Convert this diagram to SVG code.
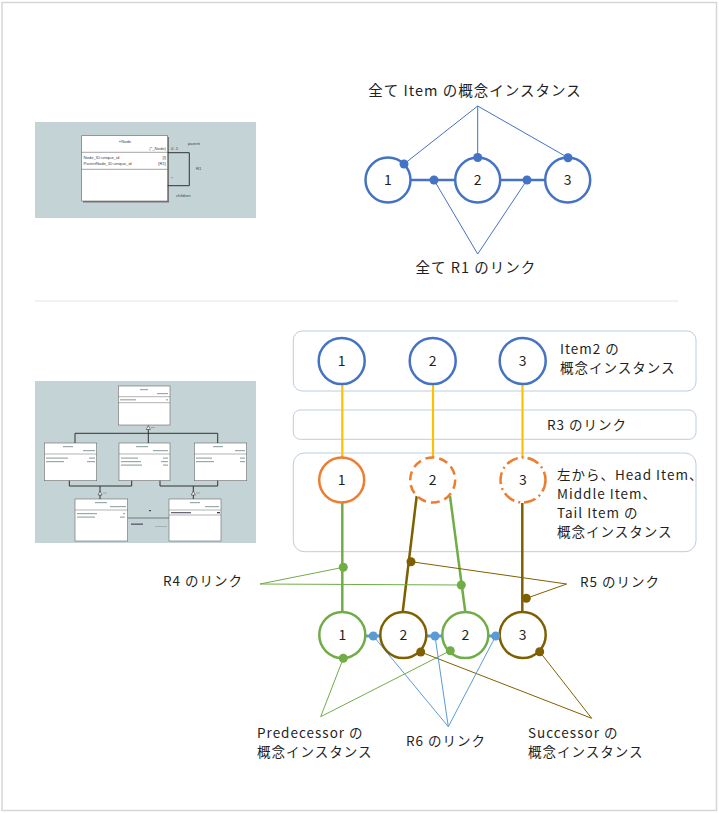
<svg xmlns="http://www.w3.org/2000/svg" width="719" height="813" viewBox="0 0 719 813">
<style>
.t{font-family:"Noto Sans CJK JP","Noto Sans",sans-serif;font-size:13.5px;letter-spacing:1px;fill:#1f1f1f}
.n{font-family:"Noto Sans CJK JP","Noto Sans",sans-serif;font-size:14px;fill:#1f1f1f;text-anchor:middle}
.tiny{font-family:"Liberation Sans",Arial,sans-serif;font-size:4.2px;fill:#444}
.blue{fill:#fff;stroke:#4472c4;stroke-width:2.5}
.orange{fill:#fff;stroke:#ed7d31;stroke-width:2.5}
.green{fill:#fff;stroke:#70ad47;stroke-width:2.5}
.brown{fill:#fff;stroke:#7f6000;stroke-width:2.5}
.box{fill:#fff;stroke:#bccddd;stroke-width:1}
.uml{fill:#fff;stroke:#666;stroke-width:0.6}
.bar{fill:#9aa}
.ul{fill:none;stroke:#333;stroke-width:1}
</style>
<rect x="2" y="2.5" width="714.5" height="808" fill="#fff" stroke="#d6d6d6" stroke-width="1.5"/>
<line x1="35" y1="301" x2="678" y2="301" stroke="#e4e4e4" stroke-width="1"/>

<!-- top thumbnail -->
<g id="thumb-node">
<rect x="35" y="122" width="221" height="96" fill="#c4d3d5"/>
<rect x="83" y="137" width="86" height="65.5" fill="#777"/>
<rect x="81.7" y="135.7" width="86" height="65.3" class="uml"/>
<line x1="81.7" y1="152.3" x2="167.7" y2="152.3" stroke="#666" stroke-width="0.6"/>
<line x1="81.7" y1="169.3" x2="167.7" y2="169.3" stroke="#666" stroke-width="0.6"/>
<text x="125" y="143" class="tiny" text-anchor="middle">«Node</text>
<text x="166" y="149.5" class="tiny" text-anchor="end">(*_Node)</text>
<text x="83.5" y="158.5" class="tiny">Node_ID:unique_id</text>
<text x="83.5" y="164.5" class="tiny">ParentNode_ID:unique_id</text>
<text x="166" y="158.5" class="tiny" text-anchor="end">[I]</text>
<text x="166" y="164.5" class="tiny" text-anchor="end">[R1]</text>
<polyline points="167.7,152.7 189.3,152.7 189.3,185.7 167.7,185.7" class="ul" stroke-width="1.3"/>
<text x="171" y="150" class="tiny">0..1</text>
<text x="188" y="145" class="tiny">parent</text>
<text x="196" y="170" class="tiny">R1</text>
<text x="171" y="180" class="tiny">*</text>
<text x="176" y="197" class="tiny">children</text>
</g>

<!-- bottom thumbnail -->
<g id="thumb-item">
<rect x="35" y="381" width="221" height="162" fill="#c4d3d5"/>
<g>
<rect x="118.3" y="386" width="51.7" height="39" class="uml"/>
<line x1="118.3" y1="396.7" x2="170" y2="396.7" stroke="#666" stroke-width="0.5"/>
<line x1="118.3" y1="402.7" x2="170" y2="402.7" stroke="#666" stroke-width="0.5"/>
<rect x="140" y="389" width="8" height="1.2" class="bar"/>
<rect x="157" y="393" width="11" height="1.2" class="bar"/>
<rect x="120" y="399.2" width="16" height="1.2" class="bar"/>
<rect x="166" y="399.2" width="2" height="1.2" class="bar"/>
</g>
<g>
<rect x="44.3" y="443" width="52.4" height="37.7" class="uml"/>
<line x1="44.3" y1="454" x2="96.7" y2="454" stroke="#666" stroke-width="0.5"/>
<rect x="63" y="446" width="10" height="1.2" class="bar"/>
<rect x="83" y="450" width="12" height="1.2" class="bar"/>
<rect x="46" y="457.5" width="22" height="1.2" class="bar"/>
<rect x="46" y="461" width="18" height="1.2" class="bar"/>
<rect x="89" y="457.5" width="6" height="1.2" class="bar"/>
<rect x="87" y="461" width="8" height="1.2" class="bar"/>
</g>
<g>
<rect x="119" y="443" width="51" height="37.7" class="uml"/>
<line x1="119" y1="454" x2="170" y2="454" stroke="#666" stroke-width="0.5"/>
<rect x="136" y="446" width="12" height="1.2" class="bar"/>
<rect x="153" y="450" width="15" height="1.2" class="bar"/>
<rect x="121" y="457.5" width="17" height="1.2" class="bar"/>
<rect x="121" y="461" width="20" height="1.2" class="bar"/>
<rect x="121" y="464.5" width="21" height="1.2" class="bar"/>
<rect x="163" y="457.5" width="5" height="1.2" class="bar"/>
<rect x="161" y="461" width="7" height="1.2" class="bar"/>
<rect x="163" y="464.5" width="5" height="1.2" class="bar"/>
</g>
<g>
<rect x="194.3" y="443" width="52.4" height="37.7" class="uml"/>
<line x1="194.3" y1="454" x2="246.7" y2="454" stroke="#666" stroke-width="0.5"/>
<rect x="213" y="446" width="10" height="1.2" class="bar"/>
<rect x="235" y="450" width="10" height="1.2" class="bar"/>
<rect x="196" y="457.5" width="16" height="1.2" class="bar"/>
<rect x="196" y="461" width="18" height="1.2" class="bar"/>
<rect x="240" y="457.5" width="5" height="1.2" class="bar"/>
<rect x="240" y="461" width="5" height="1.2" class="bar"/>
</g>
<g>
<rect x="75" y="499" width="52.7" height="42" class="uml"/>
<line x1="75" y1="510" x2="127.7" y2="510" stroke="#666" stroke-width="0.5"/>
<rect x="95" y="502" width="12" height="1.2" class="bar"/>
<rect x="110" y="506" width="16" height="1.2" class="bar"/>
<rect x="77" y="513" width="20" height="1.2" class="bar"/>
<rect x="77" y="516.5" width="18" height="1.2" class="bar"/>
<rect x="123" y="513" width="2" height="1.2" class="bar"/>
<rect x="120" y="516.5" width="5" height="1.2" class="bar"/>
</g>
<g>
<rect x="169" y="499" width="52" height="42" class="uml"/>
<line x1="169" y1="510" x2="221" y2="510" stroke="#666" stroke-width="0.5"/>
<line x1="169" y1="515" x2="221" y2="515" stroke="#666" stroke-width="0.5"/>
<rect x="190" y="502" width="10" height="1.2" class="bar"/>
<rect x="205" y="506" width="14" height="1.2" class="bar"/>
<rect x="171" y="512" width="20" height="1.3" fill="#667"/>
<rect x="217" y="512" width="3" height="1.3" fill="#444"/>
</g>
<g class="ul" stroke-width="1.2">
<polyline points="75,443 75,433.3 217.7,433.3 217.7,443"/>
<line x1="148.3" y1="433.3" x2="148.3" y2="443"/>
<line x1="148.3" y1="429" x2="148.3" y2="433.3"/>
<polyline points="69.3,480.7 69.3,486 131.7,486 131.7,480.7"/>
<polyline points="160,480.7 160,486 217.7,486 217.7,480.7"/>
<line x1="100" y1="486" x2="100" y2="499"/>
<line x1="193.3" y1="486" x2="193.3" y2="499"/>
</g>
<polygon points="148.3,425.5 146.3,429.5 150.3,429.5" fill="#fff" stroke="#333" stroke-width="0.6"/>
<polygon points="100,491 98,495 102,495" fill="#fff" stroke="#333" stroke-width="0.6"/>
<polygon points="193.3,491 191.3,495 195.3,495" fill="#fff" stroke="#333" stroke-width="0.6"/>
<rect x="151" y="427" width="4" height="1" class="bar"/>
<rect x="103" y="492.5" width="4" height="1" class="bar"/>
<rect x="196" y="492.5" width="4" height="1" class="bar"/>
<line x1="127.7" y1="518" x2="169" y2="518" stroke="#555" stroke-width="0.7"/>
<rect x="149" y="510" width="2" height="1.2" fill="#444"/>
<rect x="131" y="523.5" width="12" height="1.3" fill="#556"/>
<rect x="155" y="526" width="12" height="0.8" class="bar"/>
</g>

<!-- top diagram connectors -->
<g id="connectors-top">
<line x1="410" y1="180" x2="455" y2="180" stroke="#4472c4" stroke-width="2.5"/>
<line x1="500" y1="180" x2="546" y2="180" stroke="#4472c4" stroke-width="2.5"/>
<g stroke="#4472c4" stroke-width="1" fill="none">
<polyline points="404,164 477.7,106 477.7,157"/>
<line x1="477.7" y1="106" x2="568" y2="157.7"/>
<polyline points="434,180 477.7,254 527,180"/>
</g>
</g>
<g id="top-item1"><circle cx="388" cy="180" r="22.5" class="blue"/><text x="388" y="185" class="n">1</text></g>
<g id="top-item2"><circle cx="477.7" cy="180" r="22.5" class="blue"/><text x="477.7" y="185" class="n">2</text></g>
<g id="top-item3"><circle cx="567.7" cy="180" r="22.5" class="blue"/><text x="567.7" y="185" class="n">3</text></g>
<g fill="#4472c4">
<circle cx="404" cy="164" r="4.5"/><circle cx="477.7" cy="157.5" r="4.5"/><circle cx="568" cy="157.7" r="4.5"/>
<circle cx="434" cy="180" r="4.5"/><circle cx="527" cy="180" r="4.5"/>
</g>
<text x="475" y="95.5" class="t" text-anchor="middle" style="font-size:14.5px;letter-spacing:1px">全て Item の概念インスタンス</text>
<text x="476" y="273" class="t" text-anchor="middle" style="font-size:14.5px;letter-spacing:1px">全て R1 のリンク</text>

<!-- bottom boxes -->
<g id="box-item2"><rect x="293.3" y="331" width="402.7" height="60" rx="9" class="box"/>
<text class="t" x="560" y="354">Item2 の</text><text class="t" x="560" y="373">概念インスタンス</text></g>
<g id="box-r3"><rect x="293.3" y="410" width="402.7" height="29.3" rx="7" class="box"/>
<text class="t" x="547" y="430">R3 のリンク</text></g>
<g id="box-sub"><rect x="293.3" y="453" width="402.7" height="98.7" rx="11" class="box"/>
<text class="t" x="557" y="480">左から、Head Item、</text>
<text class="t" x="557" y="499">Middle Item、</text>
<text class="t" x="557" y="518">Tail Item の</text>
<text class="t" x="557" y="537">概念インスタンス</text></g>

<!-- bottom connectors -->
<g id="connectors-bottom">
<g stroke="#ffc000" stroke-width="2.2">
<line x1="342.3" y1="384" x2="342.3" y2="458"/>
<line x1="433" y1="384" x2="433" y2="458"/>
<line x1="522.5" y1="384" x2="522.5" y2="458"/>
</g>
<line x1="342.3" y1="502.5" x2="342.3" y2="612" stroke="#70ad47" stroke-width="2.5"/>
<line x1="450" y1="496" x2="465.3" y2="612" stroke="#70ad47" stroke-width="2.5"/>
<line x1="416.7" y1="496" x2="402.7" y2="612" stroke="#7f6000" stroke-width="2.5"/>
<line x1="522.3" y1="503" x2="522.3" y2="612" stroke="#7f6000" stroke-width="2.5"/>
<g stroke="#5b9bd5" stroke-width="3">
<line x1="365" y1="636" x2="381" y2="636"/>
<line x1="426" y1="636" x2="443" y2="636"/>
<line x1="488" y1="636" x2="500" y2="636"/>
</g>
<g stroke="#70ad47" stroke-width="1" fill="none">
<polyline points="343.3,567.3 260,584 461.3,585"/>
<polyline points="343.3,658.3 320.7,716.7 450.3,650.7"/>
</g>
<g stroke="#7f6000" stroke-width="1" fill="none">
<polyline points="411,561.7 566.7,584 526.3,598.3"/>
<polyline points="420.7,652 591.7,718.3 539.7,651.7"/>
</g>
<g stroke="#5b9bd5" stroke-width="1" fill="none">
<polyline points="373.3,636 448.3,726.7 435,636"/>
<line x1="448.3" y1="726.7" x2="495.7" y2="636"/>
</g>
</g>

<g id="item2-1"><circle cx="341.7" cy="361" r="23" class="blue"/><text x="341.7" y="366" class="n">1</text></g>
<g id="item2-2"><circle cx="432.7" cy="361" r="23" class="blue"/><text x="432.7" y="366" class="n">2</text></g>
<g id="item2-3"><circle cx="522.7" cy="361" r="23" class="blue"/><text x="522.7" y="366" class="n">3</text></g>

<g id="head-1"><circle cx="341.7" cy="480" r="22.5" class="orange"/><text x="341.7" y="485" class="n">1</text></g>
<g id="middle-2"><circle cx="432.7" cy="480" r="22.5" class="orange" stroke-dasharray="9 5"/><text x="432.7" y="485" class="n">2</text></g>
<g id="tail-3"><circle cx="523" cy="480" r="22.5" class="orange" stroke-dasharray="12 4 2 4"/><text x="523" y="485" class="n">3</text></g>

<g id="pred-1"><circle cx="342.3" cy="635" r="23" class="green"/><text x="342.3" y="640" class="n">1</text></g>
<g id="succ-2"><circle cx="403.3" cy="635" r="23" class="brown"/><text x="403.3" y="640" class="n">2</text></g>
<g id="pred-2"><circle cx="465.3" cy="635" r="23" class="green"/><text x="465.3" y="640" class="n">2</text></g>
<g id="succ-3"><circle cx="522.7" cy="635" r="23" class="brown"/><text x="522.7" y="640" class="n">3</text></g>

<g id="dots-bottom">
<g fill="#70ad47"><circle cx="343.3" cy="567.3" r="4.5"/><circle cx="461.3" cy="585" r="4.5"/><circle cx="343.3" cy="658.3" r="4.5"/><circle cx="450.3" cy="650.7" r="4.5"/></g>
<g fill="#7f6000"><circle cx="411" cy="561.7" r="4.5"/><circle cx="526.3" cy="598.3" r="4.5"/><circle cx="420.7" cy="652" r="4.5"/><circle cx="539.7" cy="651.7" r="4.5"/></g>
<g fill="#5b9bd5"><circle cx="373.3" cy="636" r="4.5"/><circle cx="435" cy="636" r="4.5"/><circle cx="495.7" cy="636" r="4.5"/></g>
</g>

<text class="t" x="163" y="586">R4 のリンク</text>
<text class="t" x="580" y="587">R5 のリンク</text>
<text class="t" x="257" y="738">Predecessor の</text>
<text class="t" x="257" y="757">概念インスタンス</text>
<text class="t" x="406" y="746">R6 のリンク</text>
<text class="t" x="528" y="738">Successor の</text>
<text class="t" x="528" y="757">概念インスタンス</text>
</svg>
